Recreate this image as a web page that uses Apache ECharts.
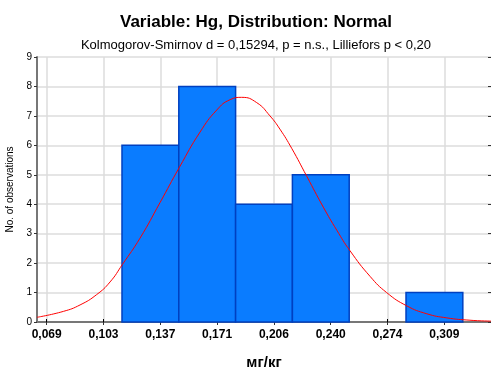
<!DOCTYPE html>
<html>
<head>
<meta charset="utf-8">
<script src="https://cdn.jsdelivr.net/npm/echarts@6/dist/echarts.min.js"></script>
<style>
  html, body { margin: 0; padding: 0; background: #fff; }
  #chart { width: 491px; height: 367px; }
</style>
</head>
<body>
<div id="chart"></div>
<script>
// histogram bins (mg/kg) and counts
const binStarts = [0.11400, 0.14828, 0.18256, 0.21684, 0.25112, 0.28540]
const binEnds = [0.14828, 0.18256, 0.21684, 0.25112, 0.28540, 0.31968]
const binCounts = [6, 8, 4, 5, 0, 1]

// expected normal curve
const curveX = [0.0627, 0.0786, 0.0887, 0.0987, 0.1068, 0.1142, 0.1249, 0.1369, 0.1486, 0.1611,
  0.1712, 0.1792, 0.1862, 0.1953, 0.2033, 0.2093, 0.2164, 0.2255, 0.2355, 0.2436,
  0.2516, 0.2637, 0.2737, 0.2858, 0.2979, 0.3100, 0.3240, 0.3367]
const curveY = [0.16, 0.36, 0.58, 0.93, 1.36, 1.95, 2.85, 4.05, 5.25, 6.45,
  7.2, 7.55, 7.63, 7.45, 7.0, 6.55, 5.9, 4.95, 3.9, 3.12,
  2.42, 1.55, 1.0, 0.55, 0.28, 0.14, 0.06, 0.03]

// x tick positions and their labels
const tickValues = [0.06856, 0.10284, 0.13712, 0.17140, 0.20568, 0.23996, 0.27424, 0.30852]
const tickLabels = ['0,069', '0,103', '0,137', '0,171', '0,206', '0,240', '0,274', '0,309']

const xMin = 0.06271
const xMax = 0.33669

const chart = echarts.init(document.getElementById('chart'))

const barData = binCounts.map((c, i) => [binStarts[i], binEnds[i], c])
const curveData = curveX.map((x, i) => [x, curveY[i]])

const option = {
  animation: false,
  textStyle: { fontFamily: 'Liberation Sans, Arial, sans-serif' },
  title: [
    {
      text: 'Variable: Hg, Distribution: Normal',
      left: 251, top: 9, textAlign: 'center',
      textStyle: { fontSize: 17, fontWeight: 'bold', color: '#000' }
    },
    {
      text: 'Kolmogorov-Smirnov d = 0,15294, p = n.s., Lilliefors p < 0,20',
      left: 251, top: 34, textAlign: 'center',
      textStyle: { fontSize: 13, fontWeight: 'normal', color: '#000' }
    }
  ],
  grid: { left: 37, right: 0, top: 57, bottom: 45, outerBoundsMode: 'none', containLabel: false },
  xAxis: [
    {
      type: 'value',
      min: xMin,
      max: xMax,
      name: 'мг/кг',
      nameLocation: 'middle',
      nameGap: 33,
      nameTextStyle: { fontSize: 15, fontWeight: 'bold', color: '#000' },
      axisLine: { lineStyle: { color: '#000', width: 2 } },
      axisTick: { show: true, inside: true, length: 3, customValues: tickValues, lineStyle: { color: '#000' } },
      axisLabel: {
        customValues: tickValues,
        margin: 7,
        fontSize: 12,
        fontWeight: 'bold',
        color: '#000',
        formatter: (v) => {
          const i = tickValues.findIndex(t => Math.abs(t - v) < 1e-6)
          return i >= 0 ? tickLabels[i] : ''
        }
      },
      splitLine: { show: true, lineStyle: { color: '#dcdcdc', width: 1.5 } }
    },
    {
      type: 'value',
      position: 'top',
      min: xMin,
      max: xMax,
      axisLine: { show: true, lineStyle: { color: '#777', width: 2 } },
      axisTick: { show: true, inside: true, length: 3, customValues: tickValues, lineStyle: { color: '#333' } },
      axisLabel: { show: false },
      splitLine: { show: false }
    }
  ],
  yAxis: [
    {
      type: 'value',
      min: 0,
      max: 9,
      interval: 1,
      name: 'No. of observations',
      nameLocation: 'middle',
      nameGap: 19,
      nameTextStyle: { fontSize: 10, color: '#000' },
      axisLine: { show: true, lineStyle: { color: '#777', width: 2 } },
      axisTick: { show: true, length: 3, lineStyle: { color: '#333' } },
      axisLabel: { fontSize: 10, color: '#000', margin: 5 },
      splitLine: { show: true, lineStyle: { color: '#dcdcdc', width: 1.5 } }
    },
    {
      type: 'value',
      position: 'right',
      min: 0,
      max: 9,
      interval: 1,
      axisLine: { show: false },
      axisTick: { show: true, inside: true, length: 3, lineStyle: { color: '#333' } },
      axisLabel: { show: false },
      splitLine: { show: false }
    }
  ],
  series: [
    {
      name: 'bins',
      type: 'custom',
      xAxisIndex: 0,
      yAxisIndex: 0,
      data: barData,
      encode: { x: [0, 1], y: 2 },
      renderItem: (params, api) => {
        const count = api.value(2)
        if (!count) return null
        const p0 = api.coord([api.value(0), count])
        const p1 = api.coord([api.value(1), 0])
        return {
          type: 'rect',
          shape: { x: p0[0], y: p0[1], width: p1[0] - p0[0], height: p1[1] - p0[1] },
          style: { fill: '#0a7cff', stroke: '#0040c0', lineWidth: 1.5 }
        }
      },
      z: 2
    },
    {
      name: 'normal',
      type: 'line',
      xAxisIndex: 0,
      yAxisIndex: 0,
      data: curveData,
      smooth: true,
      showSymbol: false,
      lineStyle: { color: '#ff0000', width: 1 },
      z: 3
    }
  ]
}

chart.setOption(option)
</script>
</body>
</html>
